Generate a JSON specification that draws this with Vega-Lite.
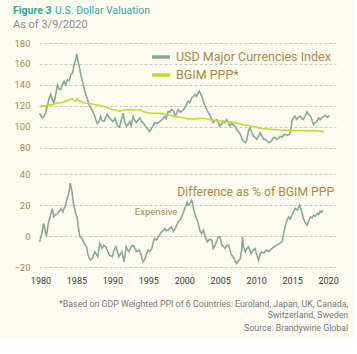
{
  "$schema": "https://vega.github.io/schema/vega-lite/v6.json",
  "background": "#fdfbf0",
  "padding": {"left": 13, "top": 5, "right": 5, "bottom": 5},
  "config": {
    "font": "Roboto, Liberation Sans, sans-serif",
    "view": {"stroke": null},
    "axis": {"domain": false, "ticks": false, "gridColor": "#c9c9c9", "gridDash": [3, 2], "gridWidth": 1, "title": null, "labelOverlap": false, "labelBound": false}
  },
  "title": {"text": "U.S. Dollar Valuation", "anchor": "start", "dx": 42, "offset": -10.5, "fontSize": 10.5, "fontWeight": "normal", "color": "#2ba89c"},
  "resolve": {"scale": {"x": "independent", "y": "independent", "color": "independent"}},
  "spacing": 16,
  "datasets": {
    "usd": [
      {"year": 1979.9, "value": 113}, {"year": 1980.1, "value": 110}, {"year": 1980.27, "value": 108.6}, {"year": 1980.5, "value": 110},
      {"year": 1980.73, "value": 113}, {"year": 1980.95, "value": 120}, {"year": 1981.2, "value": 127}, {"year": 1981.43, "value": 131},
      {"year": 1981.65, "value": 126}, {"year": 1981.89, "value": 123}, {"year": 1982.1, "value": 130}, {"year": 1982.37, "value": 140},
      {"year": 1982.6, "value": 136}, {"year": 1982.83, "value": 135.6}, {"year": 1983.05, "value": 140}, {"year": 1983.28, "value": 143.5},
      {"year": 1983.5, "value": 140}, {"year": 1983.76, "value": 145}, {"year": 1984.0, "value": 144}, {"year": 1984.22, "value": 150},
      {"year": 1984.45, "value": 151}, {"year": 1984.67, "value": 159}, {"year": 1984.87, "value": 163}, {"year": 1985.05, "value": 169.5},
      {"year": 1985.2, "value": 163}, {"year": 1985.37, "value": 159}, {"year": 1985.6, "value": 150}, {"year": 1985.84, "value": 143.5},
      {"year": 1986.05, "value": 137}, {"year": 1986.3, "value": 131}, {"year": 1986.55, "value": 126}, {"year": 1986.76, "value": 121},
      {"year": 1987.0, "value": 118}, {"year": 1987.24, "value": 115}, {"year": 1987.47, "value": 112}, {"year": 1987.7, "value": 107},
      {"year": 1987.9, "value": 103}, {"year": 1988.07, "value": 104}, {"year": 1988.37, "value": 110}, {"year": 1988.57, "value": 106},
      {"year": 1988.87, "value": 105.5}, {"year": 1989.07, "value": 109}, {"year": 1989.28, "value": 112}, {"year": 1989.48, "value": 110},
      {"year": 1989.79, "value": 107}, {"year": 1990.09, "value": 105}, {"year": 1990.39, "value": 108}, {"year": 1990.7, "value": 101},
      {"year": 1991.0, "value": 99.7}, {"year": 1991.3, "value": 108}, {"year": 1991.5, "value": 113}, {"year": 1991.7, "value": 105},
      {"year": 1991.96, "value": 100.6}, {"year": 1992.22, "value": 103}, {"year": 1992.43, "value": 105}, {"year": 1992.63, "value": 101},
      {"year": 1992.89, "value": 110}, {"year": 1993.14, "value": 106}, {"year": 1993.34, "value": 104}, {"year": 1993.65, "value": 107},
      {"year": 1993.85, "value": 108.6}, {"year": 1994.06, "value": 105}, {"year": 1994.26, "value": 104}, {"year": 1994.57, "value": 101},
      {"year": 1994.97, "value": 97.5}, {"year": 1995.17, "value": 95.5}, {"year": 1995.48, "value": 99}, {"year": 1995.68, "value": 101},
      {"year": 1995.89, "value": 104}, {"year": 1996.19, "value": 103}, {"year": 1996.6, "value": 105}, {"year": 1996.9, "value": 107},
      {"year": 1997.3, "value": 110}, {"year": 1997.5, "value": 108}, {"year": 1997.77, "value": 115}, {"year": 1998.02, "value": 114},
      {"year": 1998.23, "value": 116.5}, {"year": 1998.53, "value": 115}, {"year": 1998.73, "value": 110}, {"year": 1998.94, "value": 113},
      {"year": 1999.14, "value": 116.5}, {"year": 1999.45, "value": 114}, {"year": 1999.65, "value": 115}, {"year": 1999.85, "value": 116},
      {"year": 2000.05, "value": 118}, {"year": 2000.36, "value": 122}, {"year": 2000.56, "value": 124.5}, {"year": 2000.77, "value": 123},
      {"year": 2001.02, "value": 127.6}, {"year": 2001.28, "value": 129}, {"year": 2001.48, "value": 131}, {"year": 2001.69, "value": 129},
      {"year": 2001.94, "value": 132.4}, {"year": 2002.1, "value": 134}, {"year": 2002.3, "value": 131}, {"year": 2002.5, "value": 128},
      {"year": 2002.61, "value": 126}, {"year": 2002.81, "value": 121}, {"year": 2003.12, "value": 116.5}, {"year": 2003.32, "value": 114},
      {"year": 2003.63, "value": 110}, {"year": 2003.83, "value": 107}, {"year": 2004.03, "value": 104}, {"year": 2004.24, "value": 106},
      {"year": 2004.54, "value": 107}, {"year": 2004.74, "value": 104}, {"year": 2004.94, "value": 100.6}, {"year": 2005.15, "value": 102},
      {"year": 2005.45, "value": 105.5}, {"year": 2005.66, "value": 104}, {"year": 2005.91, "value": 107}, {"year": 2006.06, "value": 105},
      {"year": 2006.37, "value": 100.6}, {"year": 2006.57, "value": 103}, {"year": 2006.83, "value": 102}, {"year": 2007.08, "value": 100},
      {"year": 2007.28, "value": 97.5}, {"year": 2007.59, "value": 95}, {"year": 2007.8, "value": 92.7}, {"year": 2008.0, "value": 89},
      {"year": 2008.2, "value": 86.4}, {"year": 2008.51, "value": 84.8}, {"year": 2008.71, "value": 88}, {"year": 2008.92, "value": 96},
      {"year": 2009.12, "value": 99}, {"year": 2009.32, "value": 96}, {"year": 2009.63, "value": 91}, {"year": 2009.83, "value": 90},
      {"year": 2010.08, "value": 88}, {"year": 2010.34, "value": 91}, {"year": 2010.54, "value": 94.3}, {"year": 2010.75, "value": 92},
      {"year": 2011.05, "value": 88}, {"year": 2011.25, "value": 88}, {"year": 2011.56, "value": 86}, {"year": 2011.76, "value": 85},
      {"year": 2011.97, "value": 85.5}, {"year": 2012.17, "value": 87}, {"year": 2012.37, "value": 89.5}, {"year": 2012.58, "value": 90},
      {"year": 2012.88, "value": 88}, {"year": 2013.09, "value": 89}, {"year": 2013.34, "value": 91}, {"year": 2013.6, "value": 90},
      {"year": 2013.8, "value": 92}, {"year": 2014.0, "value": 92.7}, {"year": 2014.31, "value": 92}, {"year": 2014.61, "value": 92.7},
      {"year": 2014.82, "value": 97}, {"year": 2014.97, "value": 105.4}, {"year": 2015.19, "value": 108.6}, {"year": 2015.42, "value": 110},
      {"year": 2015.63, "value": 107}, {"year": 2015.83, "value": 109}, {"year": 2016.14, "value": 110}, {"year": 2016.34, "value": 108},
      {"year": 2016.55, "value": 107}, {"year": 2016.85, "value": 111}, {"year": 2017.06, "value": 114.3}, {"year": 2017.26, "value": 112},
      {"year": 2017.57, "value": 110}, {"year": 2017.77, "value": 106}, {"year": 2017.98, "value": 102}, {"year": 2018.18, "value": 104},
      {"year": 2018.39, "value": 105}, {"year": 2018.69, "value": 108.6}, {"year": 2018.9, "value": 107}, {"year": 2019.2, "value": 109},
      {"year": 2019.41, "value": 110}, {"year": 2019.61, "value": 111}, {"year": 2019.92, "value": 109}, {"year": 2020.05, "value": 110},
      {"year": 2020.2, "value": 111}
    ],
    "ppp": [
      {"year": 1979.9, "value": 119}, {"year": 1980.14, "value": 120}, {"year": 1980.64, "value": 120}, {"year": 1981.14, "value": 121},
      {"year": 1981.65, "value": 121}, {"year": 1982.16, "value": 122.5}, {"year": 1982.68, "value": 123}, {"year": 1983.08, "value": 123.5},
      {"year": 1983.69, "value": 125}, {"year": 1984.2, "value": 126}, {"year": 1984.5, "value": 126.7}, {"year": 1984.7, "value": 125},
      {"year": 1984.9, "value": 124.4}, {"year": 1985.1, "value": 127}, {"year": 1985.3, "value": 125}, {"year": 1985.81, "value": 123.5},
      {"year": 1986.42, "value": 122.5}, {"year": 1987.03, "value": 122}, {"year": 1987.64, "value": 121}, {"year": 1988.15, "value": 120.6},
      {"year": 1989.07, "value": 119}, {"year": 1989.58, "value": 117.5}, {"year": 1989.99, "value": 116.5}, {"year": 1990.5, "value": 116},
      {"year": 1991.0, "value": 115}, {"year": 1991.72, "value": 116}, {"year": 1992.43, "value": 116.5}, {"year": 1993.14, "value": 116},
      {"year": 1993.86, "value": 116}, {"year": 1994.57, "value": 114}, {"year": 1995.08, "value": 113.5}, {"year": 1995.69, "value": 113},
      {"year": 1996.4, "value": 113}, {"year": 1997.11, "value": 112.4}, {"year": 1998.03, "value": 111}, {"year": 1998.74, "value": 110},
      {"year": 1999.45, "value": 109}, {"year": 2000.05, "value": 108.6}, {"year": 2000.56, "value": 107.6}, {"year": 2001.48, "value": 107.6},
      {"year": 2002.2, "value": 108}, {"year": 2002.91, "value": 108}, {"year": 2003.52, "value": 107}, {"year": 2004.24, "value": 106},
      {"year": 2004.95, "value": 105.5}, {"year": 2005.66, "value": 105}, {"year": 2006.37, "value": 104.5}, {"year": 2007.08, "value": 104},
      {"year": 2007.69, "value": 103}, {"year": 2008.2, "value": 102}, {"year": 2008.81, "value": 101.5}, {"year": 2009.42, "value": 100.6},
      {"year": 2010.13, "value": 99.5}, {"year": 2010.75, "value": 98.4}, {"year": 2011.56, "value": 98}, {"year": 2012.37, "value": 97.5},
      {"year": 2013.19, "value": 97}, {"year": 2014.0, "value": 96.8}, {"year": 2014.72, "value": 96.5}, {"year": 2015.63, "value": 96.5},
      {"year": 2016.55, "value": 96.5}, {"year": 2017.26, "value": 96.3}, {"year": 2017.98, "value": 96.5}, {"year": 2018.69, "value": 96},
      {"year": 2019.42, "value": 95.2}
    ],
    "diff": [
      {"year": 1979.9, "value": -3.7}, {"year": 1980.24, "value": 2.8}, {"year": 1980.44, "value": 8.2}, {"year": 1980.64, "value": 4},
      {"year": 1980.84, "value": 0}, {"year": 1981.09, "value": 8.2}, {"year": 1981.45, "value": 14.6}, {"year": 1981.65, "value": 17.8},
      {"year": 1981.85, "value": 12.5}, {"year": 1982.1, "value": 14}, {"year": 1982.38, "value": 14.6}, {"year": 1982.58, "value": 16},
      {"year": 1982.84, "value": 17.8}, {"year": 1983.1, "value": 15.7}, {"year": 1983.3, "value": 18}, {"year": 1983.5, "value": 20},
      {"year": 1983.7, "value": 24.3}, {"year": 1983.9, "value": 27}, {"year": 1984.0, "value": 29.7}, {"year": 1984.15, "value": 34.4},
      {"year": 1984.3, "value": 31}, {"year": 1984.4, "value": 28.6}, {"year": 1984.6, "value": 21}, {"year": 1984.9, "value": 14.6},
      {"year": 1985.1, "value": 12.5}, {"year": 1985.25, "value": 6}, {"year": 1985.5, "value": -0.4}, {"year": 1985.8, "value": -1.5},
      {"year": 1986.06, "value": -4.7}, {"year": 1986.42, "value": -6.9}, {"year": 1986.62, "value": -12.3}, {"year": 1986.93, "value": -15.5},
      {"year": 1987.24, "value": -14.4}, {"year": 1987.55, "value": -10}, {"year": 1987.96, "value": -13.3}, {"year": 1988.27, "value": -4.7},
      {"year": 1988.57, "value": -8}, {"year": 1988.83, "value": -6}, {"year": 1989.08, "value": -6.9}, {"year": 1989.59, "value": -12.3},
      {"year": 1989.99, "value": -13.3}, {"year": 1990.25, "value": -9}, {"year": 1990.5, "value": -6.9}, {"year": 1990.91, "value": -13.3},
      {"year": 1991.32, "value": -10}, {"year": 1991.62, "value": -16.6}, {"year": 1991.93, "value": -6.9}, {"year": 1992.13, "value": -9},
      {"year": 1992.34, "value": -10}, {"year": 1992.59, "value": -7}, {"year": 1992.85, "value": -5.8}, {"year": 1993.05, "value": -7},
      {"year": 1993.36, "value": -10}, {"year": 1993.76, "value": -9}, {"year": 1994.06, "value": -13}, {"year": 1994.26, "value": -16.6},
      {"year": 1994.47, "value": -15.5}, {"year": 1994.72, "value": -12}, {"year": 1994.97, "value": -9}, {"year": 1995.22, "value": -10},
      {"year": 1995.48, "value": -8}, {"year": 1995.68, "value": -4}, {"year": 1995.89, "value": -1.5}, {"year": 1996.14, "value": -2.5},
      {"year": 1996.4, "value": -0.4}, {"year": 1996.6, "value": 1}, {"year": 1996.86, "value": 2.8}, {"year": 1997.11, "value": 4},
      {"year": 1997.31, "value": 5}, {"year": 1997.52, "value": 3.5}, {"year": 1997.77, "value": 3.9}, {"year": 1997.97, "value": 5},
      {"year": 1998.23, "value": 6}, {"year": 1998.48, "value": 3}, {"year": 1998.74, "value": 5}, {"year": 1998.94, "value": 7},
      {"year": 1999.14, "value": 9.2}, {"year": 1999.4, "value": 10.4}, {"year": 1999.65, "value": 12.5}, {"year": 1999.85, "value": 15},
      {"year": 2000.05, "value": 17.8}, {"year": 2000.26, "value": 20}, {"year": 2000.41, "value": 22}, {"year": 2000.56, "value": 20},
      {"year": 2000.77, "value": 21}, {"year": 2001.02, "value": 23.2}, {"year": 2001.17, "value": 21}, {"year": 2001.28, "value": 17.8},
      {"year": 2001.48, "value": 14.6}, {"year": 2001.74, "value": 11}, {"year": 2001.94, "value": 8.2}, {"year": 2002.15, "value": 4},
      {"year": 2002.4, "value": 1.7}, {"year": 2002.66, "value": 3.9}, {"year": 2002.91, "value": -0.4}, {"year": 2003.22, "value": -3.7},
      {"year": 2003.52, "value": -2}, {"year": 2003.83, "value": -2.6}, {"year": 2004.03, "value": -8}, {"year": 2004.29, "value": -5.8},
      {"year": 2004.54, "value": -3}, {"year": 2004.74, "value": -0.4}, {"year": 2004.94, "value": -0.4}, {"year": 2005.25, "value": -5.8},
      {"year": 2005.66, "value": -8}, {"year": 2005.91, "value": -6}, {"year": 2006.16, "value": -5.8}, {"year": 2006.57, "value": -12.3},
      {"year": 2006.88, "value": -14}, {"year": 2007.08, "value": -16}, {"year": 2007.28, "value": -17.7}, {"year": 2007.54, "value": -16},
      {"year": 2007.8, "value": -14.5}, {"year": 2008.0, "value": -8}, {"year": 2008.1, "value": -0.4}, {"year": 2008.25, "value": -7},
      {"year": 2008.51, "value": -10.2}, {"year": 2008.71, "value": -8}, {"year": 2008.92, "value": -7}, {"year": 2009.12, "value": -9},
      {"year": 2009.32, "value": -11.2}, {"year": 2009.58, "value": -9}, {"year": 2009.83, "value": -8}, {"year": 2010.08, "value": -12},
      {"year": 2010.34, "value": -15.6}, {"year": 2010.54, "value": -12}, {"year": 2010.75, "value": -10.2}, {"year": 2011.05, "value": -11},
      {"year": 2011.46, "value": -9}, {"year": 2011.76, "value": -10}, {"year": 2012.17, "value": -8}, {"year": 2012.47, "value": -7},
      {"year": 2012.88, "value": -5.8}, {"year": 2013.19, "value": -5}, {"year": 2013.6, "value": -3.7}, {"year": 2013.8, "value": 1},
      {"year": 2014.0, "value": 6}, {"year": 2014.26, "value": 10}, {"year": 2014.51, "value": 12.5}, {"year": 2014.72, "value": 11},
      {"year": 2014.97, "value": 13.6}, {"year": 2015.22, "value": 16}, {"year": 2015.42, "value": 18}, {"year": 2015.73, "value": 17},
      {"year": 2016.04, "value": 20.1}, {"year": 2016.19, "value": 18}, {"year": 2016.34, "value": 15.8}, {"year": 2016.55, "value": 11.5},
      {"year": 2016.8, "value": 9}, {"year": 2017.06, "value": 7.1}, {"year": 2017.31, "value": 10}, {"year": 2017.57, "value": 12.5},
      {"year": 2017.77, "value": 12}, {"year": 2017.98, "value": 13.6}, {"year": 2018.23, "value": 13}, {"year": 2018.49, "value": 14.7},
      {"year": 2018.69, "value": 14}, {"year": 2018.9, "value": 16.2}, {"year": 2019.1, "value": 15.5}, {"year": 2019.25, "value": 16.9}
    ],
    "notes": [{"label": "Difference as % of BGIM PPP"}],
    "notes2": [{"label": "Expensive"}]
  },
  "vconcat": [
    {
      "width": 297,
      "height": 105,
      "title": {"text": "Figure 3", "subtitle": "As of 3/9/2020", "anchor": "start", "fontSize": 10.5, "fontWeight": "bold", "color": "#2ba89c", "subtitleFontSize": 11, "subtitleColor": "#8a8a8a", "subtitlePadding": 3, "offset": 8},
      "encoding": {
        "x": {"field": "year", "type": "quantitative", "scale": {"domain": [1979.8, 2021.1], "nice": false, "zero": false}, "axis": null},
        "y": {"field": "value", "type": "quantitative", "scale": {"domain": [79.8, 180], "nice": false, "zero": false},
          "axis": {"values": [80, 100, 120, 140, 160, 180], "format": "d", "grid": true, "labelColor": "#a88a45", "labelFontSize": 9.5, "labelPadding": 9, "minExtent": 26, "maxExtent": 26}}
      },
      "layer": [
        {
          "data": {"name": "usd"},
          "mark": {"type": "line", "strokeWidth": 1.6},
          "encoding": {
            "color": {"datum": "USD Major Currencies Index", "type": "nominal",
              "scale": {"domain": ["USD Major Currencies Index", "BGIM PPP*"], "range": ["#86aa98", "#c6d92e"]},
              "legend": {"orient": "none", "legendX": 111, "legendY": 3, "title": null, "symbolType": "stroke", "symbolSize": 324, "symbolStrokeWidth": 3.5, "labelFontSize": 12.5, "labelColor": "#a88a45", "labelOffset": 4, "rowPadding": -2, "labelLimit": 400}}
          }
        },
        {
          "data": {"name": "ppp"},
          "mark": {"type": "line", "strokeWidth": 1.6},
          "encoding": {"color": {"datum": "BGIM PPP*", "type": "nominal"}}
        }
      ]
    },
    {
      "width": 297,
      "height": 93,
      "title": {"text": ["*Based on GDP Weighted PPI of 6 Countries: Euroland, Japan, UK, Canada,", "Switzerland, Sweden"], "subtitle": "Source: Brandywine Global", "orient": "bottom", "anchor": "end", "dx": 10, "offset": 15, "fontSize": 8.8, "fontWeight": "normal", "color": "#777777", "lineHeight": 10.5, "subtitleFontSize": 8.8, "subtitleColor": "#777777", "subtitlePadding": 5},
      "resolve": {"axis": {"x": "independent", "y": "independent"}},
      "layer": [
        {
          "data": {"name": "diff"},
          "mark": {"type": "line", "strokeWidth": 1.6, "color": "#86aa98"},
          "encoding": {
            "x": {"field": "year", "type": "quantitative", "scale": {"domain": [1979.8, 2021.1], "nice": false, "zero": false},
              "axis": {"orient": "bottom", "values": [1980, 1985, 1990, 1995, 2000, 2005, 2010, 2015, 2020], "format": "d", "grid": false, "labelColor": "#3a3a3a", "labelFontSize": 9, "labelPadding": 9, "labelFlush": false}},
            "y": {"field": "value", "type": "quantitative", "scale": {"domain": [-20, 40.3], "nice": false, "zero": false},
              "axis": {"orient": "left", "values": [-20, 0, 20, 40], "format": "d", "grid": true, "labelColor": "#a88a45", "labelFontSize": 9.5, "labelPadding": 9, "minExtent": 26, "maxExtent": 26}}
          }
        },
        {
          "data": {"name": "notes"},
          "mark": {"type": "text", "align": "right", "baseline": "middle", "fontSize": 12.2, "color": "#a88a45"},
          "encoding": {
            "x": {"datum": 2020.84, "type": "quantitative", "scale": {"domain": [1979.8, 2021.1], "nice": false, "zero": false}, "axis": null},
            "y": {"datum": 28.8, "type": "quantitative", "scale": {"domain": [-20, 40.3], "nice": false, "zero": false}, "axis": null},
            "text": {"field": "label", "type": "nominal"}
          }
        },
        {
          "data": {"name": "notes2"},
          "mark": {"type": "text", "align": "left", "baseline": "middle", "fontSize": 9.5, "color": "#a88a45"},
          "encoding": {
            "x": {"datum": 1993.13, "type": "quantitative", "scale": {"domain": [1979.8, 2021.1], "nice": false, "zero": false}, "axis": null},
            "y": {"datum": 15.4, "type": "quantitative", "scale": {"domain": [-20, 40.3], "nice": false, "zero": false}, "axis": null},
            "text": {"field": "label", "type": "nominal"}
          }
        }
      ]
    }
  ]
}
